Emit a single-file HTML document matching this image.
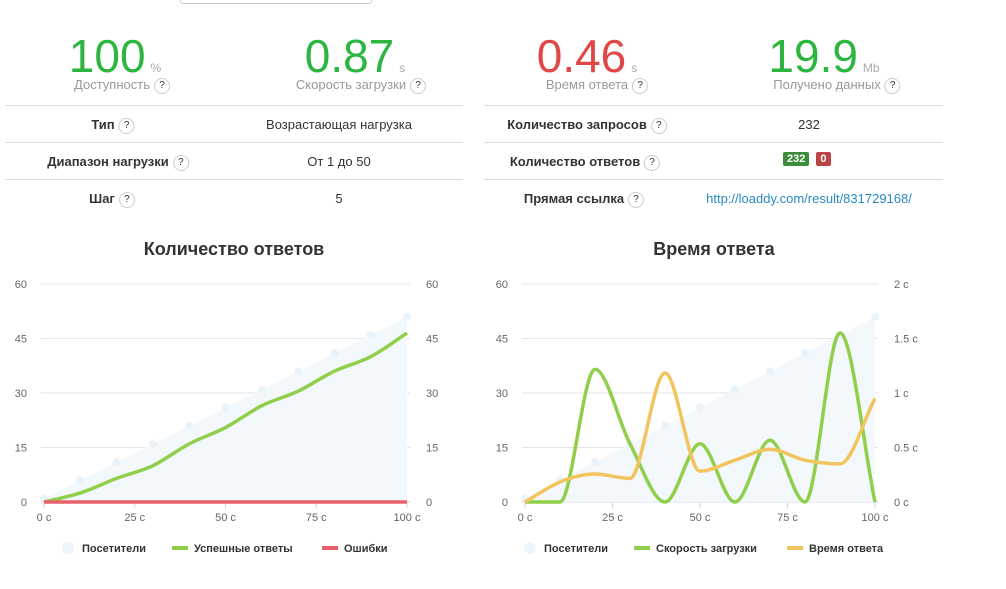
<!DOCTYPE html>
<html><head><meta charset="utf-8"><style>
body{margin:0;width:1006px;height:589px;background:#fff;font-family:"Liberation Sans",sans-serif;position:relative;overflow:hidden}
.a{position:absolute}
.big{font-size:46px;color:#2cb53f;white-space:nowrap;transform:translateX(-50%);top:29px}
.big small{font-size:12px;color:#aaa;margin-left:5px}
.lbl{font-size:13px;color:#999;white-space:nowrap;transform:translateX(-50%);top:77px}
.q{display:inline-block;width:14px;height:14px;border:1px solid #ccc;border-radius:50%;font-size:10px;line-height:14px;text-align:center;color:#333;margin-left:4px;vertical-align:middle;font-weight:normal}
.hr{height:1px;background:#ddd}
.c{font-size:13px;color:#333;white-space:nowrap;transform:translateX(-50%)}
.b{font-weight:bold}
.t{font-size:18px;font-weight:bold;color:#333;transform:translateX(-50%);white-space:nowrap;top:239px}
</style></head><body>
<div class="a" style="left:180px;top:-5px;width:190px;height:7px;border:1px solid #ccc;border-radius:3px"></div>
<div class="a big" style="left:115px">100<small>%</small></div>
<div class="a big" style="left:355px">0.87<small>s</small></div>
<div class="a big" style="left:587px;color:#e04848">0.46<small>s</small></div>
<div class="a big" style="left:824px">19.9<small>Mb</small></div>
<div class="a lbl" style="left:122px">Доступность<span class="q">?</span></div>
<div class="a lbl" style="left:361px">Скорость загрузки<span class="q">?</span></div>
<div class="a lbl" style="left:597px">Время ответа<span class="q">?</span></div>
<div class="a lbl" style="left:837px">Получено данных<span class="q">?</span></div>
<div class="a hr" style="left:5px;width:458px;top:105px"></div>
<div class="a hr" style="left:5px;width:458px;top:142px"></div>
<div class="a hr" style="left:5px;width:458px;top:179px"></div>
<div class="a hr" style="left:484px;width:459px;top:105px"></div>
<div class="a hr" style="left:484px;width:459px;top:142px"></div>
<div class="a hr" style="left:484px;width:459px;top:179px"></div>
<div class="a c b" style="left:113px;top:117px">Тип<span class="q">?</span></div>
<div class="a c" style="left:339px;top:117px">Возрастающая нагрузка</div>
<div class="a c b" style="left:118px;top:154px">Диапазон нагрузки<span class="q">?</span></div>
<div class="a c" style="left:339px;top:154px">От 1 до 50</div>
<div class="a c b" style="left:112px;top:191px">Шаг<span class="q">?</span></div>
<div class="a c" style="left:339px;top:191px">5</div>
<div class="a c b" style="left:587px;top:117px">Количество запросов<span class="q">?</span></div>
<div class="a c" style="left:809px;top:117px">232</div>
<div class="a c b" style="left:585px;top:154px">Количество ответов<span class="q">?</span></div>
<div class="a" style="left:783px;top:153px;font-size:11px;font-weight:bold;color:#fff"><span style="background:#3c8c3c;padding:1px 4px;border-radius:2px">232</span> <span style="background:#b94444;padding:1px 4px;border-radius:2px;margin-left:4px">0</span></div>
<div class="a c b" style="left:584px;top:191px">Прямая ссылка<span class="q">?</span></div>
<div class="a c" style="left:809px;top:191px;color:#2a8ac4">http://loaddy.com/result/831729168/</div>
<div class="a t" style="left:234px">Количество ответов</div>
<div class="a t" style="left:714px">Время ответа</div>
<svg class="a" style="left:0;top:0" width="1006" height="589" id="s" font-family="Liberation Sans, sans-serif" font-size="11" fill="#666"></svg>
<script>
const s=document.getElementById('s');let h='';
function mono(p){const n=p.length,dx=[],m=[],t=[];for(let i=0;i<n-1;i++){dx[i]=p[i+1][0]-p[i][0];m[i]=(p[i+1][1]-p[i][1])/dx[i];}
t[0]=m[0];t[n-1]=m[n-2];for(let i=1;i<n-1;i++){t[i]=(m[i-1]*m[i]<=0)?0:(m[i-1]+m[i])/2;}
for(let i=0;i<n-1;i++){if(m[i]===0){t[i]=0;t[i+1]=0;continue;}const a=t[i]/m[i],b=t[i+1]/m[i],q=a*a+b*b;if(q>9){const k=3/Math.sqrt(q);t[i]=k*a*m[i];t[i+1]=k*b*m[i];}}
let d='M'+p[0][0]+','+p[0][1];for(let i=0;i<n-1;i++){const h3=dx[i]/3;d+=` C${p[i][0]+h3},${p[i][1]+t[i]*h3} ${p[i+1][0]-h3},${p[i+1][1]-t[i+1]*h3} ${p[i+1][0]},${p[i+1][1]}`;}return d;}
function chart(x0,x1,right,series){const Y=v=>502-v*218/60,X=v=>x0+(x1-x0)*v/100;
for(let i=0;i<=4;i++){const y=502-i*54.5;h+=`<line x1="${x0-3}" x2="${x1+3}" y1="${y}" y2="${y}" stroke="${i?'#e6e6e6':'#ccd6eb'}"/>`;h+=`<text x="${x0-17}" y="${y+4}" text-anchor="end">${i*15}</text><text x="${x1+19}" y="${y+4}">${right[i]}</text>`;}
for(let i=0;i<=4;i++){const x=X(i*25);h+=`<line x1="${x}" x2="${x}" y1="502" y2="508" stroke="#ccd6eb"/><text x="${x}" y="521" text-anchor="middle">${i*25} c</text>`;}
const vis=[];for(let i=0;i<=10;i++)vis.push([X(i*10),Y(1+5*i)]);
h+=`<path d="M${X(0)},502 L${vis.map(p=>p.join(',')).join(' L')} L${X(100)},502Z" fill="#f2f8fc"/>`;
vis.forEach(p=>h+=`<circle cx="${p[0]}" cy="${p[1]}" r="4" fill="#eaf3fa"/>`);
series.forEach(([d,c])=>{h+=`<path d="${mono(d.map((v,i)=>[X(i*10),Y(v)]))}" fill="none" stroke="${c}" stroke-width="3.5"/>`;});}
chart(44,407,[0,15,30,45,60],[[[0,2.5,6.5,10,16,20.5,26.5,30.5,36,40,46.5],'#8fcf4a'],[[0,0,0,0,0,0,0,0,0,0,0],'#e8606a']]);
chart(525,875,['0 c','0.5 c','1 c','1.5 c','2 c'],[[[0,0,36.5,16,0,16,0,17,0,46.5,0],'#8fcf4a'],[[0,5.5,7.7,6.5,35.5,8.5,11.5,14.5,11.5,10.5,28.5],'#f2c45e']]);
function leg(x,items){items.forEach(([t,c,dot,dx])=>{if(dot)h+=`<circle cx="${x+dx}" cy="548" r="6" fill="#eef5fb"/>`;else h+=`<rect x="${x+dx-8}" y="546" width="16" height="4" fill="${c}"/>`;h+=`<text x="${x+dx+14}" y="552" font-weight="bold" fill="#333">${t}</text>`;});}
leg(0,[['Посетители','',1,68],['Успешные ответы','#8fcf4a',0,180],['Ошибки','#e8606a',0,330]]);
leg(0,[['Посетители','',1,530],['Скорость загрузки','#8fcf4a',0,642],['Время ответа','#f2c45e',0,795]]);
s.innerHTML=h;
</script>
</body></html>
